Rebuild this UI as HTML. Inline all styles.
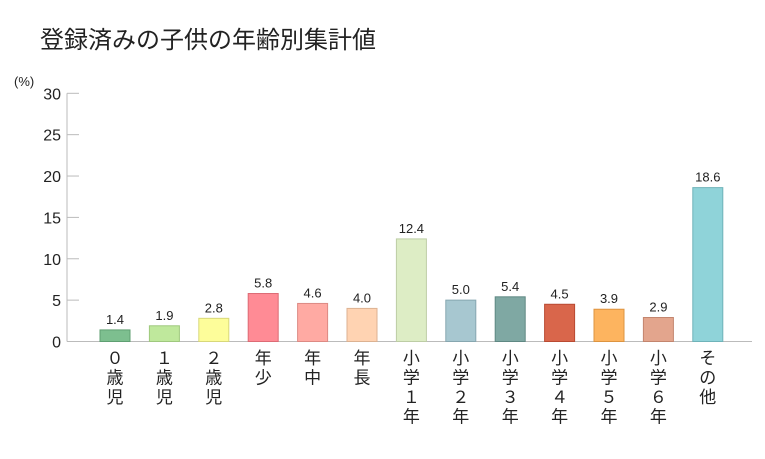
<!DOCTYPE html>
<html><head><meta charset="utf-8"><style>
body{margin:0;background:#fff;width:765px;height:454px;overflow:hidden;font-family:"Liberation Sans","Noto Sans CJK JP",sans-serif;}
</style></head><body>
<svg id="c" width="765" height="454" xmlns="http://www.w3.org/2000/svg">
<text x="40" y="48" font-size="24" fill="#222" font-family="Noto Sans CJK JP, sans-serif">登録済みの子供の年齢別集計値</text>
<text x="14" y="86" font-size="13" fill="#222">(%)</text>
<g id="axes"></g><g id="bars"></g>
</svg>
<script>
const categories=["０歳児","１歳児","２歳児","年少","年中","年長","小学１年","小学２年","小学３年","小学４年","小学５年","小学６年","その他"];
const values=[1.4,1.9,2.8,5.8,4.6,4.0,12.4,5.0,5.4,4.5,3.9,2.9,18.6];
const valueLabels=["1.4","1.9","2.8","5.8","4.6","4.0","12.4","5.0","5.4","4.5","3.9","2.9","18.6"];
const yTicks=[0,5,10,15,20,25,30];
const colors=["#7dbf8f","#bfe89c","#fdfd9a","#ff8b95","#ffaaa3","#ffd3b2","#ddedc5","#a7c7d0","#7fa8a3","#d9664b","#fdb45f","#e3a58d","#8fd3d9"];
const strokes=["#5f9f72","#9fc87e","#d8d87a","#dd6b75","#dd8a84","#dcb292","#bdcda5","#87a7b0","#5f8883","#b94a32","#dd9440","#c3856e","#6fb3b9"];
const ns="http://www.w3.org/2000/svg";
const y0=341.5,y30=93.3,xL=67,xR=752;
function yS(v){return y0-(v/30)*(y0-y30);}
function xC(i){return 115+i*49.4;}
const ax=document.getElementById('axes'),bg=document.getElementById('bars');
function mk(t,a,p){const e=document.createElementNS(ns,t);for(const k in a)e.setAttribute(k,a[k]);p.appendChild(e);return e;}
let yl=mk('line',{x1:xL,y1:y30,x2:xL,y2:y0,stroke:'#bbb','stroke-width':1},ax);


yTicks.forEach(t=>{
 const y=yS(t);
 const tk=mk('line',{x1:xL,y1:y,x2:t===0?xR:79,y2:y,stroke:'#bbb','stroke-width':1},ax);
 
 
 const tx=mk('text',{x:61,y:y+6,'text-anchor':'end','font-size':16,fill:'#222'},ax);
 tx.textContent=t;
 
 
});
values.forEach((v,i)=>{
 const x=xC(i),y=yS(v);
 const r=mk('rect',{x:x-15,y:y,width:30,height:y0-y,fill:colors[i],stroke:strokes[i],'stroke-width':1},bg);
 
 
 const vl=mk('text',{x:x,y:y-6,'text-anchor':'middle','font-size':13,fill:'#222'},bg);
 vl.textContent=valueLabels[i];
 
 
 const g=mk('text',{'font-size':17,fill:'#222','font-family':'Noto Sans CJK JP, sans-serif','text-anchor':'middle'},bg);
 
 
 [...categories[i]].forEach((ch,j)=>{const s=mk('tspan',{x:x,y:364+j*19.5},g);s.textContent=ch;});
});
</script>
</body></html>
